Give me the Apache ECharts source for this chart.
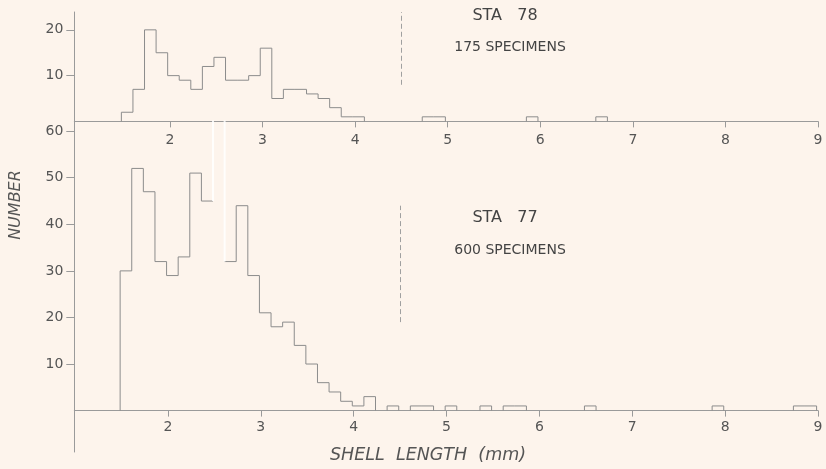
<!DOCTYPE html>
<html><head><meta charset="utf-8">
<script src="https://cdn.jsdelivr.net/npm/echarts@6/dist/echarts.min.js"></script>
<style>html,body{margin:0;padding:0;background:#fdf4ec}#c{width:826px;height:469px}</style>
</head><body><div id="c"></div>
<script>
// ---- data ----
const xTickValues = [2, 3, 4, 5, 6, 7, 8, 9];
const topYTicks = [10, 20];
const bottomYTicks = [10, 20, 30, 40, 50, 60];
const binWidth = 0.125;

// STA 78 : bin left edges (mm) and counts
const sta78Starts = [1.475,1.6,1.725,1.85,1.975,2.1,2.225,2.35,2.475,2.6,2.725,2.85,2.975,3.1,3.225,3.35,3.475,3.6,3.725,3.85,3.975,4.725,4.85,5.85,6.6];
const sta78Counts = [2,7,20,15,10,9,7,12,14,9,9,10,16,5,7,7,6,5,3,1,1,1,1,1,1];

// STA 77
const sta77Starts = [1.485,1.61,1.735,1.86,1.985,2.11,2.235,2.36,2.485,2.61,2.735,2.86,2.985,3.11,3.235,3.36,3.485,3.61,3.735,3.86,3.985,4.11,4.36,4.61,4.735,4.985,5.36,5.61,5.735,6.485,7.86,8.735,8.86];
const sta77Counts = [30,52,47,32,29,33,51,45,66,32,44,29,21,18,19,14,10,6,4,2,1,3,1,1,1,1,1,1,1,1,1,1,1];
const sta77FadedBin = 2.485;   // bin drawn faintly (over-tall) in the original

const dividerX = 4.5;
const topDivider = [8, 23.9];
const bottomDivider = [19, 44];

const labels = {
  top: ['STA   78', '175 SPECIMENS'],
  bottom: ['STA   77', '600 SPECIMENS'],
  yName: 'NUMBER',
  xName: 'SHELL  LENGTH  (mm)'
};

// ---- build outline runs ----
function outlineRuns(starts, counts, skip) {
  const runs = [];
  let cur = null, prevEnd = null;
  for (let i = 0; i < starts.length; i++) {
    const s = starts[i], e = s + binWidth, c = counts[i];
    const contiguous = prevEnd !== null && Math.abs(prevEnd - s) < 1e-6;
    if (skip !== undefined && Math.abs(s - skip) < 1e-6) {
      if (cur) runs.push(cur);
      cur = null; prevEnd = e;
      continue;
    }
    if (!contiguous) {
      if (cur) { cur.push([prevEnd, 0]); runs.push(cur); }
      cur = [[s, 0]];
    } else if (!cur) {
      cur = [];
    }
    cur.push([s, c], [e, c]);
    prevEnd = e;
  }
  if (cur) { cur.push([prevEnd, 0]); runs.push(cur); }
  return runs;
}
function fadedRun(starts, counts, skip) {
  const i = starts.findIndex(s => Math.abs(s - skip) < 1e-6);
  const s = starts[i], e = s + binWidth;
  return [[s, counts[i - 1]], [s, counts[i]], [e, counts[i]], [e, counts[i + 1]]];
}

const LINE = '#8c8c8c', AXIS = '#9a9a9a', TXT = '#555', FONT = 'DejaVu Sans';

function runSeries(runs, gi, color, width, clip) {
  return runs.map(r => ({
    type: 'line', xAxisIndex: gi, yAxisIndex: gi, data: r,
    showSymbol: false, symbol: 'none', silent: true, animation: false,
    lineStyle: { color: color, width: width }, clip: clip
  }));
}

const series = [];
series.push(...runSeries(outlineRuns(sta78Starts, sta78Counts), 0, LINE, 1, false));
series.push(...runSeries(outlineRuns(sta77Starts, sta77Counts, sta77FadedBin), 1, LINE, 1, false));
series.push(...runSeries([fadedRun(sta77Starts, sta77Counts, sta77FadedBin)], 1, 'rgba(255,255,255,0.85)', 2, true));

function divider(gi, range) {
  return {
    type: 'line', xAxisIndex: gi, yAxisIndex: gi, data: [], silent: true, animation: false,
    markLine: {
      symbol: 'none', silent: true, animation: false, label: { show: false },
      lineStyle: { type: [5, 3], color: '#a0a0a0', width: 1 },
      data: [[{ coord: [dividerX, range[0]] }, { coord: [dividerX, range[1]] }]]
    }
  };
}
series.push(divider(0, topDivider), divider(1, bottomDivider));

function xAxis(gi, min, margin) {
  return {
    type: 'value', gridIndex: gi, min: min, max: 9,
    axisLine: { show: true, onZero: false, lineStyle: { color: AXIS, width: 1 } },
    axisTick: { show: true, length: 6, customValues: xTickValues, lineStyle: { color: AXIS } },
    axisLabel: { customValues: xTickValues, margin: margin, color: TXT, fontFamily: FONT, fontSize: 14 },
    splitLine: { show: false }
  };
}
function yAxis(gi, min, max, ticks) {
  return {
    type: 'value', gridIndex: gi, min: min, max: max,
    axisLine: { show: true, onZero: false, lineStyle: { color: AXIS, width: 1 } },
    axisTick: { show: true, length: 8, customValues: ticks, lineStyle: { color: AXIS } },
    axisLabel: { customValues: ticks, margin: 11, color: TXT, fontFamily: FONT, fontSize: 14 },
    splitLine: { show: false }
  };
}

const chart = echarts.init(document.getElementById('c'), null, { renderer: 'canvas' });
chart.setOption({
  backgroundColor: '#fdf4ec',
  animation: false,
  grid: [
    { left: 74.3, right: 8, top: 12, bottom: 347.6, outerBoundsMode: 'none', containLabel: false },
    { left: 74.3, right: 8, top: 121.4, bottom: 58.4, outerBoundsMode: 'none', containLabel: false },
    { left: 74.3, right: 8, top: 410.6, bottom: 17, outerBoundsMode: 'none', containLabel: false }
  ],
  xAxis: [xAxis(0, 0.9665, 12), xAxis(1, 0.9914, 10), { type: 'value', gridIndex: 2, min: 1, max: 9, show: false }],
  yAxis: [
    yAxis(0, 0, 23.9, topYTicks),
    yAxis(1, 0, 62.1, bottomYTicks),
    { type: 'value', gridIndex: 2, min: 0, max: 1,
      axisLine: { show: true, lineStyle: { color: AXIS, width: 1 } },
      axisTick: { show: false }, axisLabel: { show: false }, splitLine: { show: false } }
  ],
  series: series,
  graphic: [
    { type: 'text', x: 505, y: 15.5, silent: true, style: { text: labels.top[0], fill: '#444', font: '16px "DejaVu Sans"', align: 'center', verticalAlign: 'middle' } },
    { type: 'text', x: 510, y: 47, silent: true, style: { text: labels.top[1], fill: '#444', font: '14px "DejaVu Sans"', align: 'center', verticalAlign: 'middle' } },
    { type: 'text', x: 505, y: 218, silent: true, style: { text: labels.bottom[0], fill: '#444', font: '16px "DejaVu Sans"', align: 'center', verticalAlign: 'middle' } },
    { type: 'text', x: 510, y: 250, silent: true, style: { text: labels.bottom[1], fill: '#444', font: '14px "DejaVu Sans"', align: 'center', verticalAlign: 'middle' } },
    { type: 'text', x: 16, y: 205, rotation: Math.PI / 2, silent: true, style: { text: labels.yName, fill: TXT, font: 'italic 16px "DejaVu Sans"', align: 'center', verticalAlign: 'middle' } },
    { type: 'text', x: 428, y: 455, silent: true, style: { text: labels.xName, fill: TXT, font: 'italic 17.5px "DejaVu Sans"', align: 'center', verticalAlign: 'middle' } }
  ]
});
</script>
</body></html>
